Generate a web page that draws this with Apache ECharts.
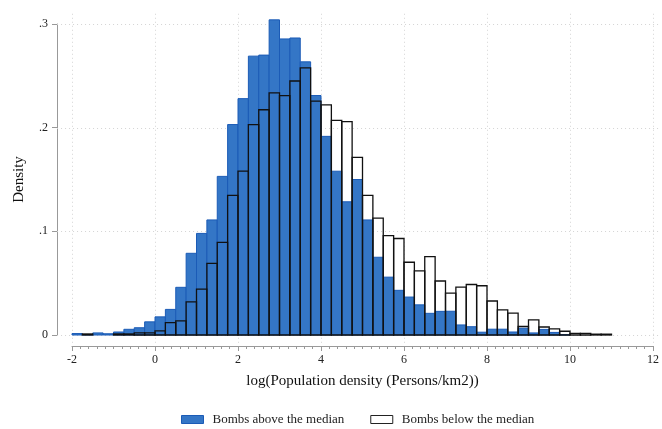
<!DOCTYPE html>
<html><head><meta charset="utf-8">
<script src="https://cdn.jsdelivr.net/npm/echarts@6/dist/echarts.min.js"></script>
<style>html,body{margin:0;padding:0;background:#fff}#c{width:662px;height:429px}</style>
</head><body><div id="c"></div>
<script>
// Bin edges (log population density), 0.25 wide
const binEdges = [-2,-1.75,-1.5,-1.25,-1,-0.75,-0.5,-0.25,0,0.25,0.5,0.75,1,1.25,1.5,1.75,2,2.25,2.5,2.75,3,3.25,3.5,3.75,4,4.25,4.5,4.75,5,5.25,5.5,5.75,6,6.25,6.5,6.75,7,7.25,7.5,7.75,8,8.25,8.5,8.75,9,9.25,9.5,9.75,10,10.25,10.5,10.75,11];
// Density: bombs above the median
const aboveMedian = [0.0014,0.0005,0.002,0.0012,0.0029,0.0055,0.007,0.0127,0.0175,0.0247,0.046,0.0788,0.098,0.111,0.153,0.203,0.228,0.269,0.270,0.304,0.2856,0.2865,0.2635,0.231,0.1916,0.158,0.1285,0.150,0.111,0.075,0.0558,0.0431,0.0366,0.0291,0.0209,0.0228,0.0229,0.0097,0.008,0.0027,0.0056,0.0056,0.0029,0.0065,0.002,0.0054,0.0025,0.0003,0,0,0,0];
// Density: bombs below the median
const belowMedian = [0,0.001,0,0,0.001,0.001,0.002,0.002,0.004,0.012,0.0137,0.032,0.0443,0.069,0.0894,0.1346,0.158,0.2029,0.2173,0.2336,0.231,0.245,0.2577,0.2256,0.222,0.207,0.2058,0.1714,0.1346,0.1128,0.0958,0.0931,0.0702,0.0618,0.0756,0.0521,0.0404,0.0461,0.0487,0.0475,0.0328,0.0243,0.0211,0.0082,0.0146,0.0077,0.006,0.0036,0.0015,0.0015,0.0008,0.0008];
const xTicks = [-2,0,2,4,6,8,10,12];
const yTicks = [0,0.1,0.2,0.3];
const seriesNames = ['Bombs above the median','Bombs below the median'];
const xTitle = 'log(Population density (Persons/km2))';
const yTitle = 'Density';

function toBins(vals){ return vals.map((v,i)=>[binEdges[i], binEdges[i+1], v]); }

const FONT = "'Liberation Serif','DejaVu Serif',serif";
const BLUE = '#3476c6', BLUE_EDGE = '#1b5bb6';
const GRID_COLOR = '#d4d4d4';

const chart = echarts.init(document.getElementById('c'), null, {renderer:'canvas'});

function barRender(fill, stroke, lw){
  return function(params, api){
    const v = api.value(2);
    if(!(v > 0)) return null;
    const p0 = api.coord([api.value(0), v]);
    const p1 = api.coord([api.value(1), 0]);
    return {type:'rect', shape:{x:p0[0], y:p0[1], width:p1[0]-p0[0], height:p1[1]-p0[1]},
      style:{fill:fill, stroke:stroke, lineWidth:lw}};
  };
}

function vGridRender(params, api){
  const x = api.value(0);
  const a = api.coord([x, -0.0075]);
  const b = api.coord([x, 0.3115]);
  const px = Math.round(a[0]) + 0.5;
  return {type:'line', shape:{x1:px, y1:a[1], x2:px, y2:b[1]},
    style:{stroke:GRID_COLOR, lineWidth:1, lineDash:[1,3]}};
}
function hGridRender(params, api){
  const y = api.value(0);
  const a = api.coord([-2.36, y]);
  const b = api.coord([12.14, y]);
  const py = Math.round(a[1]) + 0.5;
  return {type:'line', shape:{x1:a[0], y1:py, x2:b[0], y2:py},
    style:{stroke:GRID_COLOR, lineWidth:1, lineDash:[1,3]}};
}

const option = {
  backgroundColor:'#fff',
  animation:false,
  grid:{left:72, right:8, top:24, bottom:94, containLabel:false},
  legend:{
    left:181, top:413, padding:0, itemWidth:22, itemHeight:8, itemGap:26,
    textStyle:{fontFamily:FONT, fontSize:13, color:'#222', padding:[0,0,0,4]},
    data:[
      {name:seriesNames[0], icon:'rect', itemStyle:{color:BLUE, borderColor:BLUE_EDGE, borderWidth:1}},
      {name:seriesNames[1], icon:'rect', itemStyle:{color:'#fff', borderColor:'#222', borderWidth:1}}
    ]
  },
  xAxis:{
    type:'value', min:-2, max:12, interval:2, offset:11,
    axisLine:{show:true, onZero:false, lineStyle:{color:'#999', width:1}},
    axisTick:{show:true, length:5, lineStyle:{color:'#999'}},
    minorTick:{show:true, splitNumber:10, length:3, lineStyle:{color:'#999'}},
    axisLabel:{fontFamily:FONT, fontSize:12, color:'#222', margin:8},
    splitLine:{show:false},
    name:xTitle, nameLocation:'middle', nameGap:28,
    nameTextStyle:{fontFamily:FONT, fontSize:15, color:'#111'}
  },
  yAxis:{
    type:'value', min:0, max:0.3, interval:0.1, offset:15,
    axisLine:{show:true, onZero:false, lineStyle:{color:'#999', width:1}},
    axisTick:{show:true, length:5, lineStyle:{color:'#999'}},
    axisLabel:{fontFamily:FONT, fontSize:12, color:'#222', margin:9,
      formatter:function(v){ return v === 0 ? '0' : String(+v.toFixed(2)).replace(/^0/, ''); }},
    splitLine:{show:false},
    name:yTitle, nameLocation:'middle', nameGap:30, nameRotate:90,
    nameTextStyle:{fontFamily:FONT, fontSize:15, color:'#111'}
  },
  series:[
    {type:'custom', name:'vgrid', z:1, silent:true, renderItem:vGridRender, data:xTicks.map(x=>[x]), encode:{x:0}},
    {type:'custom', name:'hgrid', z:1, silent:true, renderItem:hGridRender, data:yTicks.map(y=>[y]), encode:{y:0}},
    {type:'custom', name:seriesNames[0], z:2, renderItem:barRender(BLUE, BLUE_EDGE, 1),
      itemStyle:{color:BLUE}, data:toBins(aboveMedian), encode:{x:[0,1], y:2}},
    {type:'custom', name:seriesNames[1], z:3, renderItem:barRender(null, '#111', 1.3),
      itemStyle:{color:'#fff', borderColor:'#111'}, data:toBins(belowMedian), encode:{x:[0,1], y:2}}
  ]
};
chart.setOption(option);
</script>
</body></html>
